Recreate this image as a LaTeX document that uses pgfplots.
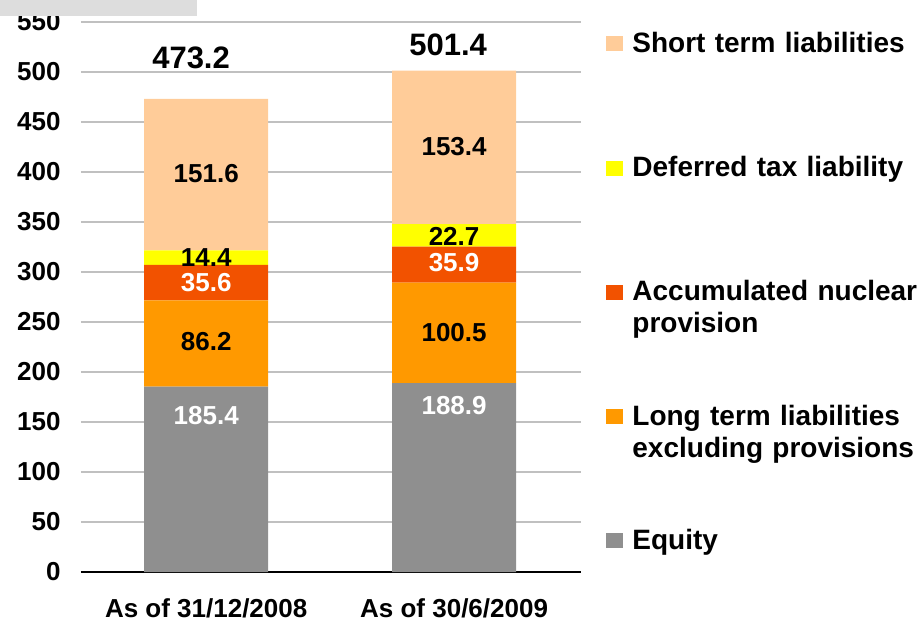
\documentclass[border=0pt]{standalone}
\usepackage{pgfplots}
\pgfplotsset{compat=1.18}
\usepackage{fontspec}
\setmainfont{Liberation Sans}
\definecolor{cShort}{HTML}{FFCC99}
\definecolor{cDef}{HTML}{FFFF00}
\definecolor{cNuc}{HTML}{F25200}
\definecolor{cLong}{HTML}{FF9900}
\definecolor{cEq}{HTML}{8F8F8F}
\definecolor{gridgray}{HTML}{C0C0C0}
\definecolor{boxgray}{HTML}{DDDDDD}
\pgfplotsset{sqlegend/.style={legend image code/.code={\fill[##1] (0pt,5.25pt) rectangle (8.5pt,12.75pt);}}}
\tikzset{lbl/.style={font=\fontsize{13}{15}\selectfont\bfseries, inner sep=0pt},
         tot/.style={font=\fontsize{15.5}{17}\selectfont\bfseries, inner sep=0pt}}
\begin{document}
\begin{tikzpicture}
\begin{axis}[
  name=ax,
  at={(0,0)}, anchor=south west,
  scale only axis, width=250pt, height=275pt,
  ybar stacked, bar width=62pt,
  xmin=-0.505, xmax=1.512, ymin=0, ymax=550,
  ytick={0,50,...,550},
  xtick={0,1}, xticklabels={As of 31/12/2008, As of 30/6/2009},
  axis x line*=bottom, axis y line*=left,
  x axis line style={black, line width=1pt, -},
  y axis line style={draw=none},
  tick style={draw=none},
  major tick length=0pt,
  ymajorgrids, grid style={draw=gridgray, line width=1pt},
  /pgf/number format/assume math mode=true,
  ticklabel style={font=\fontsize{13}{15}\selectfont\bfseries},
  yticklabel style={anchor=east, inner sep=0pt, xshift=-10pt},
  xticklabel style={anchor=base, inner sep=0pt, yshift=-22.5pt},
  reverse legend,
  legend style={at={(1.05,0.9836)}, anchor=north west, draw=none, fill=none,
    inner sep=0pt, row sep=31.6pt, column sep=4.5pt,
    nodes={inner sep=0pt, text width=160pt, align=left, text height=10.5pt, text depth=20pt,
      font=\fontsize{14}{16}\selectfont\bfseries}},
]
\addplot[fill=cEq, draw=none, sqlegend] coordinates {(0,185.4) (1,188.9)};
\addlegendentry{Equity}
\addplot[fill=cLong, draw=none, sqlegend] coordinates {(0,86.2) (1,100.5)};
\addlegendentry{Long term liabilities\\excluding provisions}
\addplot[fill=cNuc, draw=none, sqlegend] coordinates {(0,35.6) (1,35.9)};
\addlegendentry{Accumulated nuclear\\provision}
\addplot[fill=cDef, draw=none, sqlegend] coordinates {(0,14.4) (1,22.7)};
\addlegendentry{Deferred tax liability}
\addplot[fill=cShort, draw=none, sqlegend] coordinates {(0,151.6) (1,153.4)};
\addlegendentry{Short term liabilities}

\coordinate (a1) at (axis cs:0,156);
\coordinate (a2) at (axis cs:0,230.5);
\coordinate (a3) at (axis cs:0,289.5);
\coordinate (a4) at (axis cs:0,314.5);
\coordinate (a5) at (axis cs:0,398.5);
\coordinate (b1) at (axis cs:1,166);
\coordinate (b2) at (axis cs:1,239.5);
\coordinate (b3) at (axis cs:1,309);
\coordinate (b4) at (axis cs:1,336);
\coordinate (b5) at (axis cs:1,425.5);
\coordinate (ta) at (axis cs:-0.061,513.7);
\coordinate (tb) at (axis cs:0.976,527);
\end{axis}
\node[lbl, text=white] at (a1) {185.4};
\node[lbl] at (a2) {86.2};
\node[lbl, text=white] at (a3) {35.6};
\node[lbl] at (a4) {14.4};
\node[lbl] at (a5) {151.6};
\node[lbl, text=white] at (b1) {188.9};
\node[lbl] at (b2) {100.5};
\node[lbl, text=white] at (b3) {35.9};
\node[lbl] at (b4) {22.7};
\node[lbl] at (b5) {153.4};
\node[tot] at (ta) {473.2};
\node[tot] at (tb) {501.4};
\fill[boxgray] (-40.5pt,278.2pt) rectangle (58pt,286pt);
\pgfresetboundingbox
\path (-40.5pt,-25pt) rectangle (419pt,286pt);
\end{tikzpicture}
\end{document}
